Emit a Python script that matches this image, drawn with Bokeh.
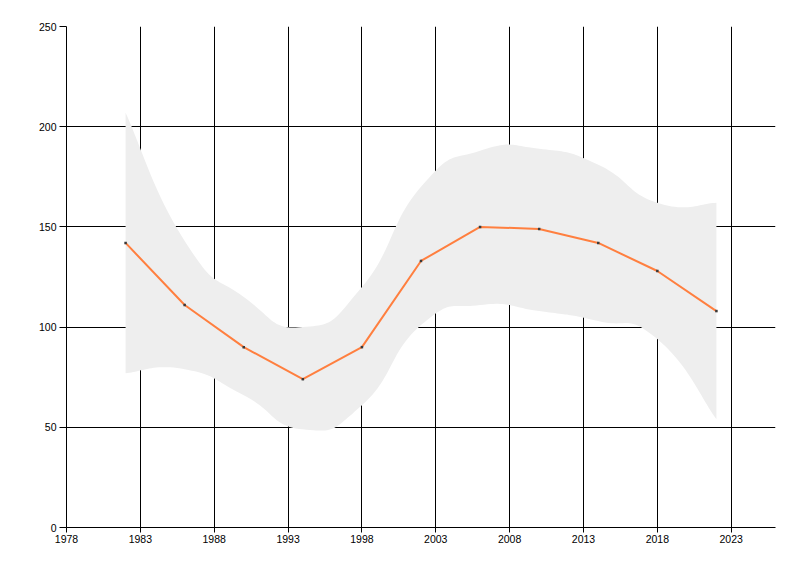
import numpy as np

from bokeh.plotting import figure
from bokeh.models import FixedTicker
from bokeh.embed import file_html
from bokeh.resources import INLINE

# data
years = [1982, 1986, 1990, 1994, 1998, 2002, 2006, 2010, 2014, 2018, 2022]
values = [142, 111, 90, 74, 90, 133, 150, 149, 142, 128, 108]
band_high = [207, 143, 115, 100, 120, 170, 188, 189, 181, 162, 162]
band_low = [77, 79, 66, 49, 61, 101, 111, 108, 103, 94, 54]

x_ticks = [1978, 1983, 1988, 1993, 1998, 2003, 2008, 2013, 2018, 2023]
y_ticks = [0, 50, 100, 150, 200, 250]


# cardinal spline through the knots, like the spline range series of the original
def spline(xs, ys, tension=0.8, steps=24):
    xs = np.asarray(xs, dtype=float)
    ys = np.asarray(ys, dtype=float)
    px = np.concatenate([[xs[0]], xs, [xs[-1]]])
    py = np.concatenate([[ys[0]], ys, [ys[-1]]])
    t = np.linspace(0, 1, steps, endpoint=False)
    outx, outy = [], []
    for i in range(1, len(px) - 2):
        x0, x1, x2, x3 = px[i - 1], px[i], px[i + 1], px[i + 2]
        y0, y1, y2, y3 = py[i - 1], py[i], py[i + 1], py[i + 2]
        c1x, c1y = x1 + tension * (x2 - x0) / 3, y1 + tension * (y2 - y0) / 3
        c2x, c2y = x2 - tension * (x3 - x1) / 3, y2 - tension * (y3 - y1) / 3
        b0 = (1 - t) ** 3
        b1 = 3 * (1 - t) ** 2 * t
        b2 = 3 * (1 - t) * t ** 2
        b3 = t ** 3
        outx += list(b0 * x1 + b1 * c1x + b2 * c2x + b3 * x2)
        outy += list(b0 * y1 + b1 * c1y + b2 * c2y + b3 * y2)
    outx.append(xs[-1])
    outy.append(ys[-1])
    return outx, outy


p = figure(width=784, height=560, x_range=(1978, 2026), y_range=(0, 250),
           output_backend="svg", toolbar_location=None,
           min_border_left=66, min_border_right=9, min_border_top=26, min_border_bottom=33)
p.outline_line_color = None
p.background_fill_color = "white"
p.border_fill_color = "white"

hx, hy = spline(years, band_high)
lx, ly = spline(years, band_low)
p.patch(x=hx + lx[::-1], y=hy + ly[::-1], fill_color="#EEEEEE", line_color=None)

p.line(x=years, y=values, line_color="#FF7F3F", line_width=2)
p.scatter(x=years, y=values, marker="square", size=2.5, fill_color="#3A3A3A", line_color=None)

p.xaxis.ticker = FixedTicker(ticks=x_ticks)
p.yaxis.ticker = FixedTicker(ticks=y_ticks)
p.xgrid.ticker = FixedTicker(ticks=x_ticks)
p.ygrid.ticker = FixedTicker(ticks=y_ticks)

for g in (p.xgrid, p.ygrid):
    g.grid_line_color = "black"
    g.grid_line_width = 1
    g.grid_line_alpha = 1

for ax in (p.xaxis, p.yaxis):
    ax.axis_line_color = "black"
    ax.axis_line_width = 1
    ax.major_tick_line_color = "black"
    ax.minor_tick_line_color = None
    ax.major_tick_in = 0
    ax.major_label_text_font = "Liberation Sans"
    ax.major_label_text_font_size = "10.5px"
    ax.major_label_text_color = "black"

p.xaxis.major_tick_out = 5
p.xaxis.major_label_standoff = 2
p.yaxis.major_tick_out = 7
p.yaxis.major_label_standoff = 3

open("out.html", "w").write(file_html(p, INLINE))
